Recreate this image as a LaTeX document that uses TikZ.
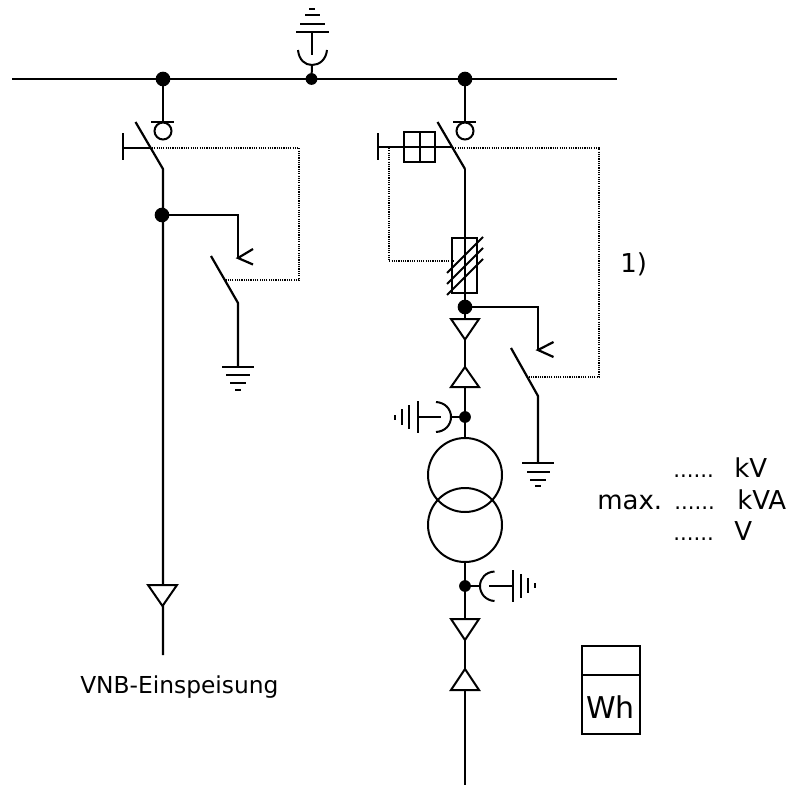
\documentclass[tikz,border=0pt]{standalone}
\usepackage{fontspec}
\setmainfont{DejaVu Sans}
\begin{document}
\begin{tikzpicture}[x=0.75pt,y=-0.75pt,line cap=butt,
    wire/.style={line width=1.65pt},
    thin wire/.style={line width=1.5pt},
    ctrl/.style={line width=0.85pt,dash pattern=on 0.85pt off 0.85pt},
    bigdot/.style={circle,fill=black,inner sep=0pt,minimum size=11pt},
    smalldot/.style={circle,fill=black,inner sep=0pt,minimum size=8.8pt},
    winding/.style={circle,draw,line width=1.5pt,inner sep=0pt,minimum size=55.5pt},
    label/.style={anchor=base west,inner sep=0pt,font=\fontsize{17.5}{19}\selectfont},
    rating/.style={anchor=base west,inner sep=0pt,font=\fontsize{19.5}{21}\selectfont},
    blanks/.style={anchor=base west,inner sep=0pt,font=\fontsize{16}{19}\selectfont}]
  \useasboundingbox (0,0) rectangle (791,785);
  % busbar
  \coordinate (busL) at (12,79);
  \coordinate (busR) at (617,79);
  \draw[wire] (busL) -- (busR);
  \node[bigdot] (busA) at (163,79) {};
  \node[smalldot] (busB) at (311.5,79) {};
  \node[bigdot] (busC) at (465,79) {};
  % surge arrester on the bus
  \coordinate (cupB) at (312,65);
  \draw[thin wire] (busB.center) -- (cupB);
  \draw[thin wire] (298,50) .. controls (299,60) and (305,65) .. (cupB) .. controls (319,65) and (326,60) .. (327,50);
  \draw[thin wire] (312,32) -- (312,55);
  \draw[thin wire] (296,32) -- (329,32);
  \draw[thin wire] (300,23.5) -- (325,23.5);
  \draw[thin wire] (305,15) -- (320,15);
  \draw[thin wire] (309,9) -- (315,9);
  % left feeder
  \coordinate (barA) at (163,122);
  \coordinate (hingeA) at (163,169);
  \coordinate (endA) at (163,655);
  \draw[wire] (busA.center) -- (barA);
  \draw[thin wire] (151,122) -- (174,122);
  \draw[thin wire] (163,131) circle[radius=8.5];
  \draw[wire] (135.5,122) -- (hingeA) -- (endA);
  \draw[thin wire] (123,133) -- (123,160);
  \draw[thin wire] (123,147.5) -- (150,147.5);
  \draw[ctrl] (152,148) -- (299,148) -- (299,280) -- (225,280);
  \node[bigdot] (tapA) at (162,215) {};
  \coordinate (gapA) at (238,258);
  \draw[wire] (tapA.center) -- (238,215) -- (gapA);
  \draw[wire] (253,249) -- (gapA) -- (253,264.5);
  \draw[wire] (211,256) -- (238,303) -- (238,367);
  \draw[wire] (222,367) -- (254,367);
  \draw[wire] (226,375) -- (250,375);
  \draw[wire] (230,383) -- (246,383);
  \draw[wire] (235,390) -- (241,390);
  \draw[thin wire,fill=white] (148,585) -- (177,585) -- (162.5,606) -- cycle;
  % right feeder
  \coordinate (barC) at (465,122);
  \coordinate (hingeC) at (465,169);
  \draw[wire] (busC.center) -- (barC);
  \draw[thin wire] (453,122) -- (476,122);
  \draw[thin wire] (465,131) circle[radius=8.5];
  \draw[wire] (437.5,122) -- (hingeC);
  \draw[thin wire] (378,133) -- (378,160);
  \draw[thin wire] (378,147) -- (452,147);
  \draw[thin wire] (404,131.5) rectangle (435,162);
  \draw[thin wire] (419.5,131.5) -- (419.5,162);
  \draw[ctrl] (453,148) -- (599,148) -- (599,377) -- (528,377);
  \draw[ctrl] (389,148) -- (389,261) -- (453,261);
  % fuse
  \node[bigdot] (tapC) at (465,307) {};
  \draw[wire] (hingeC) -- (tapC.center);
  \draw[thin wire] (452,238) rectangle (477,293);
  \draw[thin wire] (447,273) -- (483,237);
  \draw[thin wire] (447,284) -- (483,248);
  \draw[thin wire] (447,295) -- (483,259);
  \coordinate (gapC) at (538,350);
  \draw[wire] (tapC.center) -- (538,307) -- (gapC);
  \draw[wire] (553.5,342) -- (gapC) -- (553.5,357);
  \draw[wire] (511,348) -- (538,396) -- (538,463);
  \draw[wire] (522,463) -- (554,463);
  \draw[wire] (527,472) -- (550,472);
  \draw[wire] (530,480) -- (546,480);
  \draw[wire] (535,486) -- (541,486);
  % transformer
  \node[smalldot] (dotU) at (465,417) {};
  \node[smalldot] (dotL) at (465,586) {};
  \node[winding] (trA) at (465,475) {};
  \node[winding] (trB) at (465,525) {};
  \draw[wire] (tapC.center) -- (dotU.center) -- (trA);
  \draw[wire] (trB) -- (dotL.center) -- (465,785);
  \draw[thin wire,fill=white] (451,319) -- (479,319) -- (465,339.5) -- cycle;
  \draw[thin wire,fill=white] (451,387) -- (479,387) -- (465,367) -- cycle;
  \draw[thin wire,fill=white] (451,619) -- (479,619) -- (465,640) -- cycle;
  \draw[thin wire,fill=white] (451,690) -- (479,690) -- (465,669) -- cycle;
  % arresters at the transformer
  \draw[thin wire] (dotU.center) -- (451,417);
  \draw[thin wire] (436,402) .. controls (445,402.5) and (451,409) .. (451,417) .. controls (451,425) and (445,431.5) .. (436,432);
  \draw[thin wire] (417.7,417) -- (441,417);
  \draw[thin wire] (417.7,401) -- (417.7,433);
  \draw[thin wire] (409.3,405) -- (409.3,429);
  \draw[thin wire] (401.7,409) -- (401.7,425);
  \draw[thin wire] (394.7,415) -- (394.7,420);
  \draw[thin wire] (dotL.center) -- (480,586);
  \draw[thin wire] (494.5,571.5) .. controls (486,572) and (480,578) .. (480,586) .. controls (480,594) and (486,600.5) .. (494.5,601);
  \draw[thin wire] (489.3,586) -- (513,586);
  \draw[thin wire] (513,570) -- (513,602);
  \draw[thin wire] (521,574) -- (521,598);
  \draw[thin wire] (528.3,578) -- (528.3,593);
  \draw[thin wire] (535.3,583) -- (535.3,588);
  % meter
  \node[draw,line width=1.5pt,inner sep=0pt,minimum width=43.5pt,minimum height=65.5pt] (meter) at (610.5,690) {};
  \draw[thin wire] (581,675) -- (640,675);
  \node[anchor=base,inner sep=0pt,font=\fontsize{22.5}{24}\selectfont] (wh) at (610.5,718) {Wh};
  % labels
  \node[rating] (note) at (620,272) {1)};
  \node[label] (feed) at (80,693) {VNB-Einspeisung};
  \node[blanks] (dotsA) at (673,477) {......};
  \node[rating] (unitA) at (734,477) {kV};
  \node[rating] (maxB) at (597,509) {max.};
  \node[blanks] (dotsB) at (674,509) {......};
  \node[rating] (unitB) at (737,509) {kVA};
  \node[blanks] (dotsC) at (673,540) {......};
  \node[rating] (unitC) at (734,540) {V};
\end{tikzpicture}
\end{document}
